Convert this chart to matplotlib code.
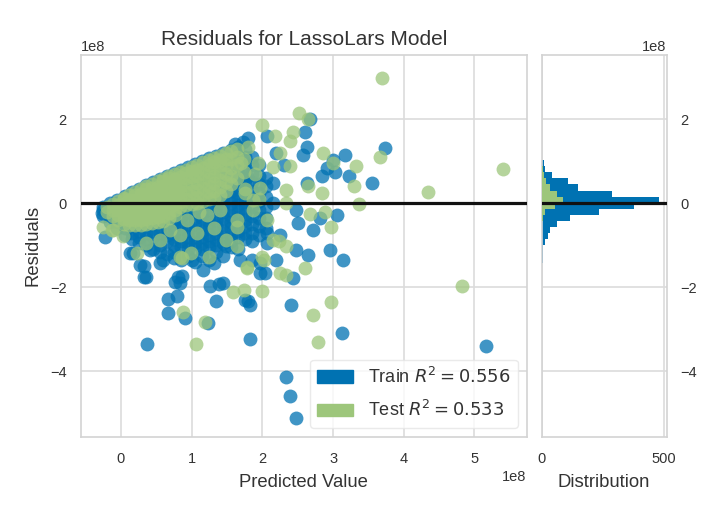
import matplotlib.pyplot as plt
import matplotlib.patches as mpatches
import numpy as np

plt.rcParams['font.family'] = ['Liberation Sans', 'DejaVu Sans']
plt.rcParams['text.color'] = '#333333'
plt.rcParams['axes.labelcolor'] = '#333333'
plt.rcParams['xtick.color'] = '#333333'
plt.rcParams['ytick.color'] = '#333333'

SCALE = 1e8  # values below are in units of 1e8

# train residuals, dense cloud: one predicted value per column, residuals listed per column
train_col_x = [-0.25, -0.15, -0.05, 0.05, 0.15, 0.25, 0.35, 0.45, 0.55, 0.65, 0.75, 0.85,
               0.95, 1.05, 1.15, 1.25, 1.35, 1.45, 1.55, 1.65, 1.75, 1.85, 1.95, 2.05]
train_col_y = [
    [-0.3, -0.15, -0.09],
    [-0.45, -0.3, -0.15, 0.0],
    [-0.6, -0.45, -0.3, -0.15, 0.0, 0.08],
    [-0.75, -0.6, -0.45, -0.3, -0.15, 0.0, 0.17],
    [-0.85, -0.7, -0.55, -0.4, -0.25, -0.1, 0.05, 0.17, 0.26],
    [-0.95, -0.8, -0.65, -0.5, -0.35, -0.2, -0.05, 0.1, 0.25, 0.35],
    [-1.0, -0.85, -0.7, -0.55, -0.4, -0.25, -0.1, 0.05, 0.2, 0.33, 0.43],
    [-1.1, -0.8, -0.65, -0.5, -0.35, -0.2, -0.05, 0.1, 0.25, 0.4, 0.51],
    [-1.15, -1.0, -0.85, -0.7, -0.55, -0.4, -0.25, -0.1, 0.05, 0.2, 0.35, 0.48, 0.58],
    [-1.2, -0.9, -0.75, -0.6, -0.45, -0.3, -0.15, 0.0, 0.15, 0.3, 0.45, 0.55, 0.65],
    [-1.3, -1.15, -1.0, -0.85, -0.7, -0.55, -0.4, -0.25, -0.1, 0.05, 0.2, 0.35, 0.5, 0.62, 0.72],
    [-1.35, -1.05, -0.9, -0.75, -0.6, -0.45, -0.3, -0.15, 0.0, 0.15, 0.3, 0.45, 0.6, 0.7, 0.79],
    [-1.25, -1.1, -0.95, -0.8, -0.65, -0.5, -0.35, -0.2, -0.05, 0.1, 0.25, 0.4, 0.55, 0.7, 0.8, 0.86],
    [-1.4, -1.1, -0.95, -0.8, -0.65, -0.5, -0.35, -0.2, -0.05, 0.1, 0.25, 0.4, 0.55, 0.7, 0.83, 0.93],
    [-1.25, -1.1, -0.95, -0.8, -0.65, -0.5, -0.35, -0.2, -0.05, 0.1, 0.25, 0.4, 0.55, 0.7, 0.85, 1.0],
    [-1.35, -1.05, -0.9, -0.75, -0.6, -0.45, -0.3, -0.15, 0.0, 0.15, 0.3, 0.45, 0.6, 0.75, 0.9, 1.07],
    [-1.15, -1.0, -0.85, -0.7, -0.55, -0.4, -0.25, -0.1, 0.05, 0.2, 0.35, 0.5, 0.65, 0.8, 0.95, 1.13],
    [-1.25, -0.95, -0.8, -0.65, -0.5, -0.35, -0.2, -0.05, 0.1, 0.25, 0.4, 0.55, 0.7, 0.85, 1.0, 1.2],
    [-1.05, -0.9, -0.75, -0.6, -0.45, -0.3, -0.15, 0.0, 0.15, 0.3, 0.45, 0.6, 0.75, 0.9, 1.05, 1.27],
    [-1.1, -0.8, -0.65, -0.5, -0.35, -0.2, -0.05, 0.1, 0.25, 0.4, 0.55, 0.7, 0.85, 1.0, 1.15, 1.35],
    [-0.85, -0.7, -0.55, -0.4, -0.25, -0.1, 0.05, 0.2, 0.35, 0.5, 0.65, 0.8, 0.95, 1.1, 1.3],
    [-0.9, -0.7, -0.5, -0.3, -0.1, 0.1, 0.3, 0.5, 0.7, 0.9, 1.1],
    [-0.75, -0.55, -0.35, -0.15, 0.05, 0.25, 0.45, 0.65, 0.9],
    [-0.6, -0.35, -0.1, 0.15, 0.4, 0.6],
]

# train residuals, scattered points (predicted, residual)
train_sparse = [
    (2.68, 2.0), (2.60, 1.70), (3.73, 1.31), (3.17, 1.15), (3.0, 1.03), (2.91, 0.83),
    (3.22, 0.65), (3.55, 0.48), (3.03, 0.75), (2.84, 0.65), (2.63, 0.48), (2.63, 1.35),
    (2.58, 1.15), (1.80, 1.55), (2.06, 1.59), (3.05, -0.28), (2.81, -0.36), (2.72, -0.64),
    (2.51, -0.48), (2.48, -0.16), (2.95, -1.11), (3.14, -1.35), (2.65, -1.23), (2.48, -1.11),
    (2.44, -1.79), (2.20, -1.35), (2.06, -0.95), (2.06, -0.71), (2.04, -1.67), (2.25, -0.75),
    (2.41, -2.42), (3.12, -3.10), (5.17, -3.40), (2.34, -4.14), (2.39, -4.60), (2.47, -5.12),
    (1.82, -3.24), (1.82, -2.42), (1.75, -2.30), (1.35, -2.34), (1.45, -1.90), (1.26, -1.97),
    (1.23, -2.86), (0.91, -2.74), (0.67, -2.62), (0.67, -2.29), (0.79, -2.22), (0.76, -1.87),
    (0.87, -1.73), (0.35, -1.76), (0.37, -3.35), (0.27, -1.47), (0.13, -1.19), (-0.23, -0.81),
    (-0.27, -0.24), (1.16, -1.59), (1.31, -1.43), (1.68, -1.35), (1.49, -1.03), (1.85, -1.35),
    (1.97, -1.43), (1.0, -1.35), (0.55, -1.43), (0.41, -1.11), (2.15, 0.0), (2.15, 0.48),
    (1.78, 0.63), (0.32, -1.75), (0.80, -1.75), (0.84, -1.9), (1.39, -1.92), (1.79, -2.34),
    (0.60, -1.35), (0.17, -1.19), (0.32, -1.5), (1.97, -1.67), (2.3, 0.9), (2.2, 1.2),
    (1.72, 1.45), (1.62, 1.4),
]

# test residuals, dense cloud
test_col_x = [-0.20, -0.12, -0.04, 0.04, 0.12, 0.20, 0.28, 0.36, 0.44, 0.52, 0.60, 0.68, 0.76, 0.84,
              0.92, 1.00, 1.08, 1.16, 1.24, 1.32, 1.40, 1.48, 1.56, 1.64, 1.74]
test_col_y = [
    [-0.2, -0.08],
    [-0.3, -0.16, -0.02],
    [-0.4, -0.28, -0.16, -0.04, 0.05],
    [-0.5, -0.38, -0.26, -0.14, -0.02, 0.1, 0.13],
    [-0.53, -0.41, -0.29, -0.17, -0.05, 0.07, 0.2],
    [-0.53, -0.41, -0.29, -0.17, -0.05, 0.07, 0.19, 0.26],
    [-0.51, -0.39, -0.27, -0.15, -0.03, 0.09, 0.21, 0.33],
    [-0.49, -0.37, -0.25, -0.13, -0.01, 0.11, 0.23, 0.35, 0.40],
    [-0.47, -0.35, -0.23, -0.11, 0.01, 0.13, 0.25, 0.37, 0.46],
    [-0.45, -0.33, -0.21, -0.09, 0.03, 0.15, 0.27, 0.39, 0.52],
    [-0.43, -0.31, -0.19, -0.07, 0.05, 0.17, 0.29, 0.41, 0.53, 0.58],
    [-0.35, -0.23, -0.11, 0.01, 0.13, 0.25, 0.37, 0.49, 0.61, 0.64],
    [-0.27, -0.15, -0.03, 0.09, 0.21, 0.33, 0.45, 0.57, 0.69],
    [-0.1, 0.02, 0.14, 0.26, 0.38, 0.5, 0.62, 0.75],
    [-0.05, 0.11, 0.27, 0.43, 0.59, 0.72, 0.8],
    [-0.02, 0.14, 0.3, 0.46, 0.62, 0.76, 0.86],
    [0.0, 0.16, 0.32, 0.48, 0.64, 0.8, 0.92],
    [0.05, 0.21, 0.37, 0.53, 0.69, 0.85, 0.98],
    [0.1, 0.26, 0.42, 0.58, 0.74, 0.9, 1.03],
    [0.12, 0.3, 0.48, 0.66, 0.84, 0.98, 1.08],
    [0.2, 0.38, 0.56, 0.74, 0.9, 1.04, 1.13],
    [0.3, 0.5, 0.7, 0.9, 1.05, 1.19],
    [0.45, 0.65, 0.85, 1.05, 1.24],
    [0.6, 0.9, 1.1, 1.3],
    [0.75, 1.05],
]

# test residuals, scattered points
test_sparse = [
    (3.69, 2.98), (5.40, 0.81), (4.35, 0.26), (4.83, -1.98), (3.66, 1.09), (2.52, 2.14),
    (2.65, 2.0), (2.0, 1.86), (2.44, 1.70), (2.39, 1.47), (2.18, 1.59), (2.86, 1.19),
    (3.33, 0.89), (3.0, 0.95), (2.39, 0.89), (3.29, 0.40), (2.84, 0.24), (3.37, -0.02),
    (2.65, 0.40), (2.34, 0.32), (2.67, -0.25), (2.89, -0.22), (2.97, -0.56), (2.34, 0.0),
    (2.60, -1.55), (2.33, -1.71), (2.97, -2.36), (2.72, -2.66), (2.79, -3.31), (2.0, -2.10),
    (1.74, -2.06), (1.59, -2.12), (1.78, -1.55), (2.02, -1.35), (2.23, -0.91), (0.88, -2.58),
    (1.19, -2.84), (1.06, -3.35), (0.22, -1.18), (0.86, -1.31), (1.24, -1.27), (1.49, -0.87),
    (1.64, -0.40), (1.87, 0.08), (1.97, 0.36), (1.94, 0.95), (2.25, 1.19), (2.15, 0.87),
    (1.75, 0.24), (-0.11, -0.64), (-0.25, -0.56), (-0.13, -0.64), (0.36, -0.95), (0.55, -0.87),
    (0.83, -1.27), (0.99, -1.19), (1.31, -0.6), (1.64, -0.56), (1.64, -1.03), (1.07, -0.71),
    (0.83, -0.75), (1.99, -1.27), (2.15, -0.87), (2.34, -1.03), (2.25, -1.67), (1.78, -1.51),
    (1.1, -0.2), (1.7, 0.95), (1.75, 0.35), (1.8, 1.35), (1.9, 0.7), (1.95, 0.1),
    (0.03, -0.79), (0.69, -0.64), (0.93, -0.4), (1.21, -0.28), (1.4, -0.16), (1.87, -0.16),
    (2.06, -0.4),
]

# residual histogram (bin edges in 1e8, counts)
hist_edges = [-1.426, -1.282, -1.138, -0.994, -0.850, -0.706, -0.562, -0.418, -0.274,
              -0.130, 0.014, 0.158, 0.302, 0.446, 0.590, 0.734, 0.878, 1.022]
train_counts = [5, 7, 7, 14, 25, 34, 61, 116, 234, 379, 479, 286, 150, 109, 41, 14, 10]
test_counts = [0, 0, 0, 0, 0, 0, 0, 5, 14, 54, 88, 61, 34, 20, 11, 5, 0]

train_r2 = 0.556
test_r2 = 0.533

BLUE = '#0072B2'
GREEN = '#9DC67B'
GRID = '#dcdcdc'


def columns_to_points(col_x, col_y):
    pts = [(x, y) for x, ys in zip(col_x, col_y) for y in ys]
    return pts


train_pts = np.array(columns_to_points(train_col_x, train_col_y) + train_sparse) * SCALE
test_pts = np.array(columns_to_points(test_col_x, test_col_y) + test_sparse) * SCALE

fig = plt.figure(figsize=(7.25, 5.09), dpi=100)
ax = fig.add_axes([0.1113, 0.142, 0.6152, 0.750])
hax = fig.add_axes([0.747, 0.142, 0.1724, 0.750])

ax.scatter(train_pts[:, 0], train_pts[:, 1], s=100, c=BLUE, alpha=0.75, linewidths=0, zorder=2)
ax.scatter(test_pts[:, 0], test_pts[:, 1], s=100, c=GREEN, alpha=0.75, linewidths=0, zorder=3)
ax.axhline(0, color='#111111', lw=2.3, zorder=4)

ax.set_xlim(-0.57 * SCALE, 5.74 * SCALE)
ax.set_ylim(-5.56 * SCALE, 3.53 * SCALE)
ax.set_xticks(np.array([0, 1, 2, 3, 4, 5]) * SCALE)
ax.set_yticks(np.array([-4, -2, 0, 2]) * SCALE)
ax.set_title('Residuals for LassoLars Model', fontsize=15, pad=7)
ax.set_xlabel('Predicted Value', fontsize=13.3, labelpad=6)
ax.set_ylabel('Residuals', fontsize=13.3, labelpad=6)

handles = [mpatches.Patch(color=BLUE, label='Train $R^2 = %.3f$' % train_r2),
           mpatches.Patch(color=GREEN, label='Test $R^2 = %.3f$' % test_r2)]
leg = ax.legend(handles=handles, loc='lower right', fontsize=13, frameon=True,
                facecolor='white', edgecolor='#e5e5e5', framealpha=0.8, labelspacing=0.75)
leg.set_zorder(5)

# histogram of residuals
bin_w = np.diff(hist_edges) * SCALE
hax.barh(np.array(hist_edges[:-1]) * SCALE, train_counts, height=bin_w, align='edge',
         color=BLUE, linewidth=0, zorder=2)
hax.barh(np.array(hist_edges[:-1]) * SCALE, test_counts, height=bin_w, align='edge',
         color=GREEN, linewidth=0, zorder=3)
hax.axhline(0, color='#111111', lw=2.3, zorder=4)
hax.set_ylim(ax.get_ylim())
hax.set_xlim(0, 510)
hax.set_xticks([0, 500])
hax.set_yticks(np.array([-4, -2, 0, 2]) * SCALE)
hax.yaxis.tick_right()
hax.yaxis.set_offset_position('right')
hax.set_xlabel('Distribution', fontsize=13.3, labelpad=6)

for a in (ax, hax):
    a.set_facecolor('white')
    a.grid(True, color=GRID, lw=1.2, zorder=0)
    a.set_axisbelow(True)
    for sp in a.spines.values():
        sp.set_color('#d3d3d3')
        sp.set_linewidth(1.2)
    a.tick_params(length=0, labelsize=10.5)
    a.tick_params(axis='x', pad=11)
    a.tick_params(axis='y', pad=10)
    a.xaxis.get_offset_text().set_fontsize(10.5)
    a.yaxis.get_offset_text().set_fontsize(10.5)

fig.savefig('out.png', dpi=100)
